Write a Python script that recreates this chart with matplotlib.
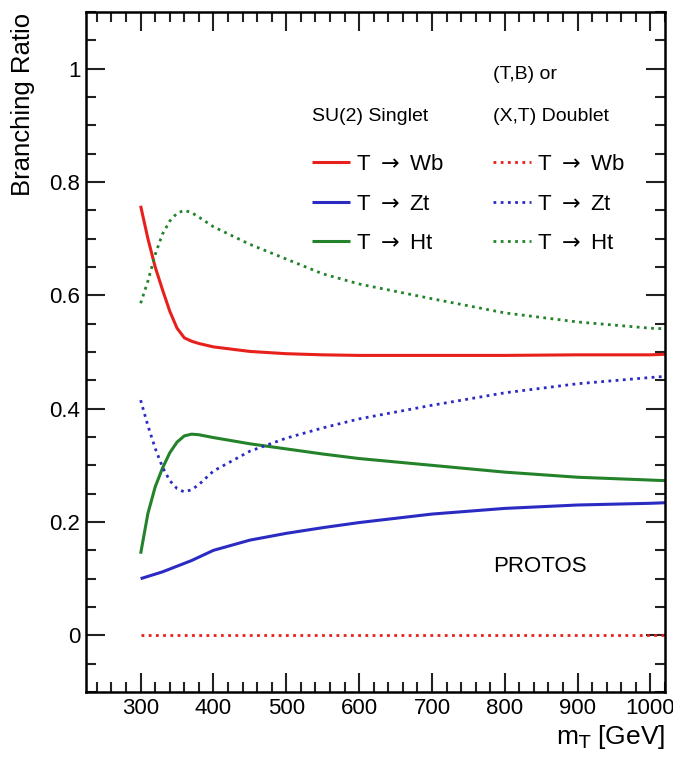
import matplotlib
matplotlib.use("Agg")
import matplotlib.pyplot as plt
from matplotlib.ticker import MultipleLocator

plt.rcParams['font.family'] = ['Liberation Sans', 'DejaVu Sans']

# T mass (GeV)
mass = [300, 310, 320, 330, 340, 350, 360, 370, 380, 400, 450, 500,
        550, 600, 700, 800, 900, 1000, 1020]

# SU(2) singlet branching ratios
singlet_wb = [0.758, 0.700, 0.650, 0.610, 0.572, 0.542, 0.525, 0.519, 0.515, 0.509,
              0.501, 0.497, 0.495, 0.494, 0.494, 0.494, 0.495, 0.495, 0.496]
singlet_zt = [0.100, 0.104, 0.108, 0.112, 0.117, 0.122, 0.127, 0.132, 0.138, 0.150,
              0.168, 0.180, 0.190, 0.199, 0.214, 0.224, 0.230, 0.233, 0.234]
singlet_ht = [0.144, 0.215, 0.262, 0.295, 0.322, 0.341, 0.352, 0.355, 0.354, 0.349,
              0.338, 0.329, 0.320, 0.312, 0.300, 0.288, 0.279, 0.274, 0.273]

# (T,B) or (X,T) doublet branching ratios
doublet_wb = [0.0] * len(mass)
doublet_zt = [0.415, 0.370, 0.330, 0.297, 0.273, 0.259, 0.253, 0.257, 0.266, 0.290,
              0.325, 0.348, 0.366, 0.382, 0.406, 0.428, 0.444, 0.455, 0.457]
doublet_ht = [0.586, 0.625, 0.672, 0.708, 0.731, 0.745, 0.750, 0.746, 0.738, 0.721,
              0.690, 0.664, 0.638, 0.620, 0.594, 0.569, 0.553, 0.542, 0.541]

decay_labels = [r"T $\rightarrow$ Wb", r"T $\rightarrow$ Zt", r"T $\rightarrow$ Ht"]
colors = ["#e8201c", "#2b2bc4", "#23822a"]

fig = plt.figure(figsize=(6.73, 7.6), dpi=100)
ax = fig.add_axes([86 / 673, 68 / 760, 579 / 673, 680 / 760])

dotted = (0, (1, 1.6))
singlet_lines = []
doublet_lines = []
for ys, col, lab in zip([singlet_wb, singlet_zt, singlet_ht], colors, decay_labels):
    line, = ax.plot(mass, ys, color=col, lw=2.2, label=lab, solid_capstyle="butt")
    singlet_lines.append(line)
for ys, col, lab in zip([doublet_wb, doublet_zt, doublet_ht], colors, decay_labels):
    line, = ax.plot(mass, ys, color=col, lw=2.0, ls=dotted, label=lab)
    doublet_lines.append(line)

ax.set_xlim(225, 1020)
ax.set_ylim(-0.1, 1.1)
ax.xaxis.set_major_locator(MultipleLocator(100))
ax.xaxis.set_minor_locator(MultipleLocator(20))
ax.yaxis.set_major_locator(MultipleLocator(0.2))
ax.yaxis.set_minor_locator(MultipleLocator(0.05))
ax.set_xticks([300, 400, 500, 600, 700, 800, 900, 1000])
ax.set_yticks([0, 0.2, 0.4, 0.6, 0.8, 1.0])
ax.set_yticklabels(["0", "0.2", "0.4", "0.6", "0.8", "1"])
ax.tick_params(which="both", direction="in", top=True, right=True, labelsize=16,
               width=1.5, color="#222222")
ax.tick_params(which="major", length=14, pad=4)
ax.tick_params(which="minor", length=7)
for sp in ax.spines.values():
    sp.set_linewidth(1.8)

ax.set_xlabel(r"m$_{\mathrm{T}}$ [GeV]", fontsize=19, loc="right")
ax.xaxis.set_label_coords(1.0, -0.046)
fig.text(23 / 673, 1 - 13 / 760, "Branching Ratio", rotation=90, fontsize=18.5,
         ha="center", va="top")

ax.text(0.390, 0.846, "SU(2) Singlet", transform=ax.transAxes, fontsize=14, va="center")
ax.text(0.703, 0.908, "(T,B) or", transform=ax.transAxes, fontsize=14, va="center")
ax.text(0.703, 0.846, "(X,T) Doublet", transform=ax.transAxes, fontsize=14, va="center")
ax.text(0.703, 0.184, "PROTOS", transform=ax.transAxes, fontsize=16, va="center")

leg_kw = dict(frameon=False, fontsize=16, handlelength=1.7, handletextpad=0.3,
              labelspacing=0.83, borderpad=0, borderaxespad=0, loc="upper left")
leg1 = ax.legend(handles=singlet_lines, bbox_to_anchor=(0.390, 0.791), **leg_kw)
ax.add_artist(leg1)
ax.legend(handles=doublet_lines, bbox_to_anchor=(0.703, 0.791), **leg_kw)

plt.savefig("out.png", dpi=100)
